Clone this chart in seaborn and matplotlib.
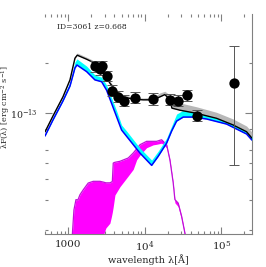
import numpy as np
import matplotlib
matplotlib.use("Agg")
import matplotlib.pyplot as plt
import seaborn as sns

# SED values (wavelength in Angstrom, lambda*F in erg/cm2/s)
total_lam = [493, 627, 847, 1047, 1216, 1303, 1730, 2010, 2580, 3090, 3485, 4266,
             5200, 7030, 9500, 12830, 15700, 18240, 21230, 22540, 28700, 47460,
             86500, 142600, 213300, 250600]
total_flux = [7.7e-14, 9.6e-14, 1.25e-13, 1.58e-13, 2.13e-13, 2.22e-13, 2.10e-13,
              2.03e-13, 1.85e-13, 1.65e-13, 1.51e-13, 1.34e-13, 1.25e-13, 1.21e-13,
              1.20e-13, 1.20e-13, 1.25e-13, 1.29e-13, 1.20e-13, 1.07e-13, 1.04e-13,
              9.96e-14, 9.3e-14, 8.48e-14, 7.73e-14, 7.08e-14]
total_hi = [7.91e-14, 9.86e-14, 1.28e-13, 1.62e-13, 2.19e-13, 2.29e-13, 2.16e-13,
            2.09e-13, 1.91e-13, 1.71e-13, 1.55e-13, 1.38e-13, 1.29e-13, 1.24e-13,
            1.23e-13, 1.24e-13, 1.32e-13, 1.35e-13, 1.28e-13, 1.20e-13, 1.15e-13,
            1.09e-13, 1.01e-13, 9.21e-14, 8.36e-14, 7.69e-14]

agn_lam = [493, 627, 847, 1047, 1216, 1291, 1730, 2218, 2716, 3155, 3673, 4266,
           4955, 5768, 8610, 12250, 14930, 19230, 22340, 25940, 31700, 42760,
           64120, 116900, 213300, 250600]
agn_flux = [7.28e-14, 9.08e-14, 1.18e-13, 1.45e-13, 1.86e-13, 1.94e-13, 1.77e-13,
            1.58e-13, 1.54e-13, 1.37e-13, 1.14e-13, 9.5e-14, 7.91e-14, 7.25e-14,
            5.76e-14, 4.86e-14, 5.51e-14, 6.61e-14, 7.80e-14, 8.95e-14, 9.46e-14,
            9.46e-14, 9.21e-14, 8.59e-14, 7.49e-14, 6.89e-14]
agn_hi = [7.49e-14, 9.46e-14, 1.23e-13, 1.53e-13, 2.02e-13, 2.11e-13, 1.91e-13,
          1.69e-13, 1.64e-13, 1.47e-13, 1.23e-13, 1.03e-13, 8.48e-14, 7.80e-14,
          6.17e-14, 5.23e-14, 5.92e-14, 7.08e-14, 8.36e-14, 9.86e-14, 1.04e-13,
          1.04e-13, 1.01e-13, 9.46e-14, 8.02e-14, 7.28e-14]

host_lam = [1090, 1180, 1254, 1331, 1414, 1561, 1814, 2110, 2582, 2851, 3090,
            3485, 3650, 3750, 3853, 4055, 4713, 6050, 7030, 7800, 8610, 10520,
            12830, 14220, 16520, 19230, 21230, 23450, 24660, 27230, 30170,
            33340, 35500]
host_hi = [1.5e-14, 2.63e-14, 3.03e-14, 3.02e-14, 3.24e-14, 3.47e-14, 3.81e-14,
           3.90e-14, 3.90e-14, 3.86e-14, 3.82e-14, 3.82e-14, 3.86e-14, 3.9e-14,
           5.02e-14, 5.07e-14, 5.14e-14, 5.38e-14, 5.76e-14, 6.1e-14, 6.46e-14,
           6.77e-14, 6.77e-14, 6.77e-14, 6.92e-14, 6.46e-14, 5.25e-14, 3.81e-14,
           3.03e-14, 2.89e-14, 2.41e-14, 1.91e-14, 1.5e-14]
host_lo = [1.5e-14, 1.5e-14, 1.5e-14, 1.5e-14, 1.5e-14, 1.5e-14, 1.5e-14,
           1.5e-14, 1.5e-14, 1.85e-14, 2.05e-14, 2.19e-14, 2.40e-14, 2.55e-14,
           2.75e-14, 3.23e-14, 3.62e-14, 4.2e-14, 4.6e-14, 5.25e-14, 5.6e-14,
           6.2e-14, 6.45e-14, 6.5e-14, 6.6e-14, 6.2e-14, 5.0e-14, 3.65e-14,
           2.9e-14, 2.75e-14, 2.3e-14, 1.82e-14, 1.5e-14]

obs_lam = [2220, 2717, 2580, 3236, 3737, 4477, 5313, 7396, 12840, 21550, 26990,
           35100, 48570, 146600]
obs_flux = [1.91e-13, 1.91e-13, 1.83e-13, 1.666e-13, 1.36e-13, 1.252e-13,
            1.188e-13, 1.235e-13, 1.21e-13, 1.205e-13, 1.185e-13, 1.276e-13,
            9.6e-14, 1.506e-13]
obs_err_lo = [1.4e-14, 1.4e-14, 1.3e-14, 1.2e-14, 1.0e-14, 9e-15, 9e-15, 9e-15,
              9e-15, 9e-15, 9e-15, 9e-15, 7e-15, 1.02e-13]
obs_err_hi = [1.5e-14, 1.5e-14, 1.4e-14, 1.3e-14, 1.1e-14, 1.0e-14, 1.0e-14,
              1.0e-14, 1.0e-14, 1.0e-14, 1.0e-14, 1.0e-14, 8e-15, 1.02e-13]

label_text = "ID=3061 z=0.668"

sns.set_theme(style="ticks")
plt.rcParams["font.family"] = ["DejaVu Serif"]
plt.rcParams["mathtext.fontset"] = "dejavuserif"

fig = plt.figure(figsize=(2.66, 2.67), dpi=100)
ax = fig.add_axes([0.169, 0.1236, 0.778, 0.824])
ax.set_xscale("log")
ax.set_yscale("log")

# host galaxy
ax.fill_between(host_lam, host_lo, host_hi, color="#ff00ff", lw=0, zorder=1)
sns.lineplot(x=host_lam, y=host_hi, ax=ax, color="#c010d8", lw=0.9,
             estimator=None, sort=False, zorder=2)

# AGN / torus
ax.fill_between(agn_lam, agn_flux, agn_hi, color="#00ffff", lw=0, zorder=3)
sns.lineplot(x=agn_lam, y=agn_flux, ax=ax, color="#0000ff", lw=1.1,
             estimator=None, sort=False, zorder=4)

# total model
ax.fill_between(total_lam, total_flux, total_hi, color="#b8b8b8", lw=0, zorder=5)
sns.lineplot(x=total_lam, y=total_flux, ax=ax, color="black", lw=1.0,
             estimator=None, sort=False, zorder=6)

# photometry
ax.errorbar(obs_lam, obs_flux, yerr=[obs_err_lo, obs_err_hi], fmt="none",
            ecolor="#555555", elinewidth=0.7, capsize=3.5, capthick=0.7, zorder=7)
sns.scatterplot(x=obs_lam, y=obs_flux, ax=ax, color="black", s=55,
                edgecolor="black", linewidth=0, zorder=8)

ax.set_xlim(493, 2.506e5)
ax.set_ylim(1.886e-14, 3.92e-13)

ax.set_xticks([1e3, 1e4, 1e5])
ax.set_xticklabels(["1000", "$10^4$", "$10^5$"])
ax.set_yticks([1e-13])
ax.set_yticklabels(["$10^{-13}$"])
ax.set_yticks([2e-14, 3e-14, 4e-14, 5e-14, 6e-14, 8e-14, 2e-13], minor=True)
ax.yaxis.set_minor_formatter(matplotlib.ticker.NullFormatter())

ax.tick_params(which="both", direction="in", top=True, right=True,
               color="#808080", labelsize=7.5, width=0.8)
ax.tick_params(which="major", length=5)
ax.tick_params(which="minor", length=2.5)
ax.tick_params(axis="x", pad=4)
ax.tick_params(axis="y", pad=5, labelsize=6.8)

for side in ["left", "top"]:
    ax.spines[side].set_visible(False)
for side in ["bottom", "right"]:
    ax.spines[side].set_color("#808080")
    ax.spines[side].set_linewidth(0.8)

ax.text(0.06, 0.94, label_text, transform=ax.transAxes, fontsize=5.5,
        ha="left", va="center")

ax.set_xlabel("wavelength λ[Å]", fontsize=7, labelpad=0)
fig.text(0.022, 0.6, r"λF(λ) [erg cm$^{-2}$ s$^{-1}$]", rotation=90,
         fontsize=5.8, ha="center", va="center")

fig.savefig("out.png", dpi=100)
